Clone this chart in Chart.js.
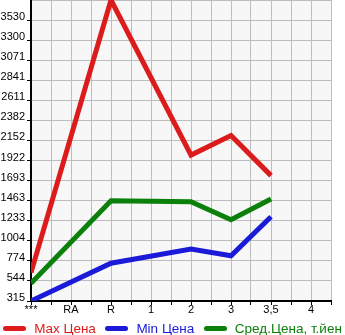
<!DOCTYPE html>
<html>
<head>
<meta charset="utf-8">
<script src="https://cdn.jsdelivr.net/npm/chart.js@4.4.1/dist/chart.umd.min.js"></script>
<style>
  html, body { margin: 0; padding: 0; background: #ffffff; }
  #wrap { width: 345px; height: 335px; position: relative; overflow: hidden; }
  #c { position: absolute; left: 0; top: 0; }
  #legend { position: absolute; left: 0; top: 320px; width: 345px; height: 16px;
            display: flex; justify-content: center; align-items: center; gap: 9.5px;
            font-family: 'Liberation Sans', Arial, sans-serif; font-size: 13.5px; white-space: nowrap; }
  .item { display: flex; align-items: center; }
  .sw { display: inline-block; width: 23px; height: 5px; border-radius: 3px; margin-right: 8px; }
</style>
</head>
<body>
<div id="wrap"><canvas id="c" width="345" height="335"></canvas><div id="legend"></div></div>
<script>
// ---- data ----
const categories = ['***', 'RA', 'R', '1', '2', '3', '3,5', '4'];
const maxPrice = [640, null, 3760, null, 1985, 2210, 1750, null];
const minPrice = [315, null, 748, null, 909, 832, 1279, null];
const avgPrice = [518, null, 1463, null, 1452, 1245, 1483, null];
const yTickLabels = ['315', '544', '774', '1004', '1233', '1463', '1693', '1922', '2152', '2382', '2611', '2841', '3071', '3300', '3530'];
const seriesNames = ['Max Цена', 'Min Цена', 'Сред.Цена, т.йен'];
const seriesColors = ['#dc1c1c', '#1a1ad8', '#0b800b'];

const yMin = 315, yMax = 3760;
const yStep = (yMax - yMin) / yTickLabels.length;

function toPoints(arr) {
  const pts = [];
  arr.forEach((v, i) => { if (v !== null) pts.push({ x: i, y: v }); });
  return pts;
}

const seriesValues = [maxPrice, minPrice, avgPrice];
const datasets = seriesValues.map((arr, i) => ({
  label: seriesNames[i],
  data: toPoints(arr),
  borderColor: seriesColors[i],
  backgroundColor: seriesColors[i],
  borderWidth: 5,
  pointRadius: 0,
  pointHoverRadius: 0,
  tension: 0,
  fill: false,
  borderJoinStyle: 'miter',
  borderCapStyle: 'butt'
}));

const bgPlugin = {
  id: 'plotBg',
  beforeDraw(chart) {
    const { ctx, chartArea: a } = chart;
    ctx.save();
    ctx.fillStyle = '#f7f7f7';
    ctx.fillRect(a.left, a.top, a.right - a.left, a.bottom - a.top);
    ctx.strokeStyle = '#bdbdbd';
    ctx.lineWidth = 1;
    ctx.beginPath();
    ctx.moveTo(a.left, a.top + 0.5);
    ctx.lineTo(a.right, a.top + 0.5);
    ctx.stroke();
    ctx.restore();
  }
};

function noPad(scale) {
  scale.paddingTop = 0; scale.paddingBottom = 0;
  scale.paddingLeft = 0; scale.paddingRight = 0;
}

const chart = new Chart(document.getElementById('c'), {
  type: 'line',
  data: { datasets },
  plugins: [bgPlugin],
  options: {
    responsive: false,
    animation: false,
    devicePixelRatio: 1,
    layout: { padding: { left: 0, right: 0, top: 0, bottom: 0 } },
    plugins: {
      tooltip: { enabled: false },
      legend: { display: false }
    },
    scales: {
      x: {
        type: 'linear',
        min: 0,
        max: categories.length - 0.5,
        afterFit(scale) { scale.height = 34; noPad(scale); },
        afterBuildTicks(scale) {
          const t = [];
          for (let v = 0; v <= categories.length - 0.5 + 1e-9; v += 0.5) t.push({ value: v });
          scale.ticks = t;
        },
        ticks: {
          autoSkip: false,
          maxRotation: 0,
          padding: -2,
          color: '#000',
          font: { family: 'Liberation Sans, Arial, sans-serif', size: 11 },
          callback(v) { return Number.isInteger(v) ? (categories[v] || '') : ''; }
        },
        grid: { color: '#bdbdbd', lineWidth: 1, tickLength: 4, tickColor: '#000' },
        border: { display: true, color: '#000', width: 2 }
      },
      y: {
        type: 'linear',
        min: yMin,
        max: yMax,
        afterFit(scale) { scale.width = 31; noPad(scale); },
        afterBuildTicks(scale) {
          const t = [];
          for (let i = 0; i < yTickLabels.length; i++) t.push({ value: yMin + i * yStep });
          scale.ticks = t;
        },
        ticks: {
          autoSkip: false,
          padding: 2,
          labelOffset: -3,
          color: '#000',
          font: { family: 'Liberation Sans, Arial, sans-serif', size: 11 },
          callback(v, idx) { return yTickLabels[idx] !== undefined ? yTickLabels[idx] : ''; }
        },
        grid: { color: '#bdbdbd', lineWidth: 1, tickLength: 4, tickColor: '#000' },
        border: { display: true, color: '#000', width: 2 }
      },
      yRight: {
        position: 'right',
        display: true,
        afterFit(scale) { scale.width = 14; noPad(scale); },
        ticks: { display: false },
        grid: { display: false, drawTicks: false },
        border: { display: false }
      }
    }
  }
});

// legend (real text), built from the series names and colours
const legendEl = document.getElementById('legend');
seriesNames.forEach((name, i) => {
  const item = document.createElement('span');
  item.className = 'item';
  const sw = document.createElement('span');
  sw.className = 'sw';
  sw.style.background = seriesColors[i];
  const tx = document.createElement('span');
  tx.textContent = name;
  tx.style.color = seriesColors[i];
  item.appendChild(sw);
  item.appendChild(tx);
  legendEl.appendChild(item);
});
</script>
</body>
</html>
